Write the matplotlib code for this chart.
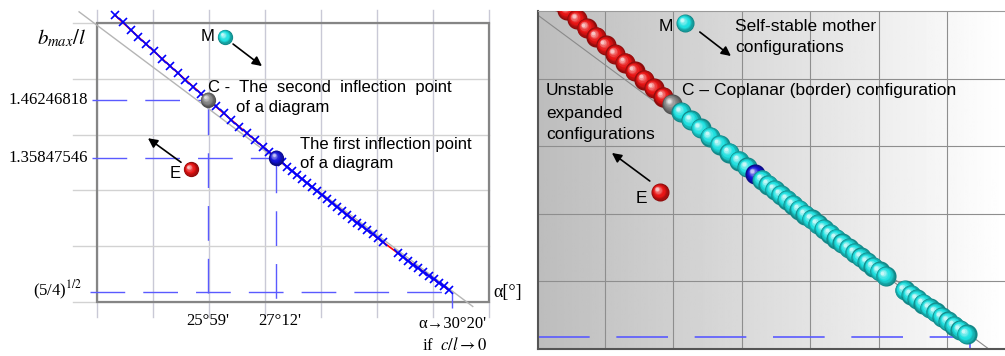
import numpy as np
import matplotlib
matplotlib.use('Agg')
import matplotlib.pyplot as plt
import matplotlib.colors as mcolors
from matplotlib.transforms import offset_copy

plt.rcParams['font.family'] = ['Liberation Sans', 'DejaVu Sans']
plt.rcParams['mathtext.fontset'] = 'stix'
SERIF = ['Liberation Serif', 'DejaVu Serif']

# データ (alpha [deg], b_max/l) --------------------------------
alpha_up = [24.32, 24.46, 24.60, 24.74, 24.88, 25.02, 25.16, 25.30, 25.44, 25.58, 25.72, 25.86]
b_up = [1.6142, 1.6010, 1.5879, 1.5749, 1.5619, 1.5490, 1.5362, 1.5235, 1.5108, 1.4982, 1.4858, 1.4733]

alpha_mid = [26.12, 26.26, 26.40, 26.54, 26.68, 26.82, 26.96, 27.08]
b_mid = [1.4505, 1.4383, 1.4262, 1.4142, 1.4022, 1.3903, 1.3785, 1.3685]

alpha_low1 = [27.30, 27.39, 27.48, 27.57, 27.66, 27.75, 27.84, 27.93, 28.02, 28.11, 28.20,
              28.29, 28.38, 28.47, 28.56, 28.65, 28.74, 28.83, 28.92, 29.01, 29.10]
b_low1 = [1.3502, 1.3428, 1.3354, 1.3280, 1.3207, 1.3134, 1.3062, 1.2989, 1.2918, 1.2846, 1.2775,
          1.2704, 1.2633, 1.2563, 1.2493, 1.2423, 1.2354, 1.2285, 1.2216, 1.2148, 1.2080]

alpha_low2 = [29.38, 29.47, 29.56, 29.65, 29.74, 29.83, 29.92, 30.01, 30.10, 30.19, 30.28]
b_low2 = [1.1870, 1.1803, 1.1737, 1.1671, 1.1605, 1.1540, 1.1474, 1.1410, 1.1345, 1.1281, 1.1217]

alpha_C, b_C = 25.983, 1.46246818        # second inflection point (25°59')
alpha_F, b_F = 27.2, 1.35847546          # first inflection point (27°12')
alpha_lim, b_lim = 30.333, 1.1180340     # 30°20', (5/4)^(1/2)

ref_alpha = [23.68, 30.71]               # thin grey reference line
ref_b = [1.620, 1.092]

alpha_ticks = [24, 25, 26, 27, 28, 29, 30, 31]
b_ticks = [1.1, 1.2, 1.3, 1.4, 1.5, 1.6]

curve_alpha = alpha_up + [alpha_C] + alpha_mid + [alpha_F] + alpha_low1 + alpha_low2
curve_b = b_up + [b_C] + b_mid + [b_F] + b_low1 + b_low2

DASH_BLUE = '#5a5aff'
RED = '#e81414'
CYAN = '#1ee0e0'
BLUE = '#1414d8'
GREY = '#858585'


# 3D風の球を描く ------------------------------
def ball(ax, x, y, color, size, z):
    base = np.array(mcolors.to_rgb(color))
    dark = base * 0.6
    light = base + (1 - base) * 0.75
    steps = 10
    for i in range(steps):
        t = i / (steps - 1)
        if t < 0.45:
            c = dark + (base - dark) * (t / 0.45)
        else:
            c = base + (light - base) * ((t - 0.45) / 0.55) ** 1.5
        d = size * (1 - 0.82 * t)
        off = size * 0.17 * t
        tr = offset_copy(ax.transData, fig=ax.figure, x=-off, y=off, units='points')
        ax.scatter([x], [y], s=d ** 2, color=[np.clip(c, 0, 1)], transform=tr,
                   zorder=z, linewidths=0)


def arrow(ax, start, end):
    ax.annotate('', xy=end, xytext=start,
                arrowprops=dict(arrowstyle='-|>', color='black', lw=1.2,
                                mutation_scale=14, shrinkA=0, shrinkB=0),
                zorder=12, annotation_clip=False)


fig = plt.figure(figsize=(10.05, 3.56), dpi=100)

# 左のグラフ ------------------------------------
ax1 = fig.add_axes([97 / 1005, 1 - 302 / 356, 392 / 1005, 279 / 356])
ax1.set_xlim(24, 31)
ax1.set_ylim(1.1, 1.6)
ax1.axis('off')

for a in alpha_ticks:
    ax1.plot([a, a], [1.073, 1.623], color='#c9c9d6', lw=1, clip_on=False, zorder=1)
for b in b_ticks:
    ax1.plot([23.57, 31], [b, b], color='#d2d2d2', lw=1, clip_on=False, zorder=1)
ax1.add_patch(plt.Rectangle((24, 1.1), 7, 0.5, fill=False, edgecolor='#858585',
                            lw=1.6, zorder=2, clip_on=False))

dash = dict(color=DASH_BLUE, lw=1, dashes=(25, 13), clip_on=False, zorder=2)
ax1.plot([23.91, alpha_C], [b_C, b_C], **dash)
ax1.plot([23.91, alpha_F], [b_F, b_F], **dash)
ax1.plot([23.88, alpha_lim], [b_lim, b_lim], **dash)
ax1.plot([alpha_C, alpha_C], [b_C, 1.090], **dash)
ax1.plot([alpha_F, alpha_F], [b_F, 1.090], **dash)
ax1.plot([alpha_lim, alpha_lim], [b_lim, 1.090], **dash)

ax1.plot(ref_alpha, ref_b, color='#b5b5b5', lw=1, clip_on=False, zorder=3)
ax1.plot(curve_alpha, curve_b, color='red', lw=1.2, clip_on=False, zorder=4)
ax1.plot(alpha_up + alpha_mid + alpha_low1 + alpha_low2, b_up + b_mid + b_low1 + b_low2,
         linestyle='none', marker='x', color='blue', markersize=6, mew=1.2,
         clip_on=False, zorder=5)

ball(ax1, alpha_C, b_C, GREY, 11, 6)
ball(ax1, alpha_F, b_F, BLUE, 11, 6)
ball(ax1, 26.286, 1.5749, CYAN, 11, 6)
ball(ax1, 25.679, 1.3379, RED, 11, 6)

ax1.text(23.84, b_C, '1.46246818', ha='right', va='center', fontsize=12, family=SERIF)
ax1.text(23.84, b_F, '1.35847546', ha='right', va='center', fontsize=12, family=SERIF)
ax1.text(23.73, b_lim + 0.002, '(5/4)$^{1/2}$', ha='right', va='center', fontsize=12, family=SERIF)
ax1.text(23.375, 1.573, '$b_{max}/l$', ha='center', va='center', fontsize=15)
ax1.text(alpha_C, 1.0668, "25°59'", ha='center', va='center', fontsize=12, family=SERIF)
ax1.text(27.27, 1.0668, "27°12'", ha='center', va='center', fontsize=12, family=SERIF)
ax1.text(30.96, 1.0614, "α→30°20'", ha='right', va='center', fontsize=12, family=SERIF)
ax1.text(30.96, 1.0219, 'if  $c/l \\rightarrow 0$', ha='right', va='center', fontsize=12,
         family=SERIF)
ax1.text(31.07, 1.117, 'α[°]', ha='left', va='center', fontsize=13, family=SERIF)

ax1.text(26.107, 1.5767, 'M', ha='right', va='center', fontsize=12)
arrow(ax1, (26.43, 1.5623), (26.946, 1.5228))
ax1.text(25.98, 1.4851, 'C -  The  second  inflection  point', ha='left', va='center', fontsize=12)
ax1.text(26.48, 1.4492, 'of a diagram', ha='left', va='center', fontsize=12)
ax1.text(27.625, 1.3828, 'The first inflection point', ha='left', va='center', fontsize=12)
ax1.text(27.625, 1.3487, 'of a diagram', ha='left', va='center', fontsize=12)
ax1.text(25.5, 1.3307, 'E', ha='right', va='center', fontsize=12)
arrow(ax1, (25.5, 1.3504), (24.91, 1.3935))

# 右のグラフ ------------------------------------
ax2 = fig.add_axes([538 / 1005, 1 - 349 / 356, 467 / 1005, 338 / 356])
x_lo, x_hi = 24.03, 30.84
ax2.set_xticks([])
ax2.set_yticks([])
grad = np.linspace(0.74, 1.0, 256).reshape(1, -1)
ax2.imshow(grad, cmap='gray', vmin=0, vmax=1, aspect='auto',
           extent=[x_lo, x_hi, 1.1, 1.6], zorder=0)
for a in alpha_ticks[1:-1]:
    ax2.axvline(a, color='#8e8e8e', lw=0.8, zorder=1)
for b in b_ticks[1:-1]:
    ax2.axhline(b, color='#8e8e8e', lw=0.8, zorder=1)
for side in ['left', 'bottom']:
    ax2.spines[side].set_color('#555555')
    ax2.spines[side].set_linewidth(1.5)
ax2.spines['top'].set_color('#9a9a9a')
ax2.spines['right'].set_visible(False)

ax2.plot([x_lo, alpha_lim], [b_lim, b_lim], color=DASH_BLUE, lw=1.2, dashes=(31, 16), zorder=2)
ax2.plot([alpha_lim, alpha_lim], [b_lim, 1.1], color=DASH_BLUE, lw=1.2, zorder=2)
ax2.plot(ref_alpha, ref_b, color='#8a8a8a', lw=0.8, zorder=2)
ax2.plot(curve_alpha, curve_b, color='#8a8a8a', lw=0.8, zorder=2)

z = 5.0
for a, b in zip(alpha_up, b_up):
    ball(ax2, a, b, RED, 14.5, z)
    z += 0.001
ball(ax2, alpha_C, b_C, GREY, 14.5, z)
z += 0.001
for a, b in zip(alpha_mid, b_mid):
    ball(ax2, a, b, CYAN, 14.5, z)
    z += 0.001
ball(ax2, alpha_F, b_F, BLUE, 14.5, z)
z += 0.001
for a, b in zip(alpha_low1 + alpha_low2, b_low1 + b_low2):
    ball(ax2, a, b, CYAN, 14.5, z)
    z += 0.001

ball(ax2, 26.172, 1.5822, CYAN, 13, 6)
ball(ax2, 25.81, 1.3322, RED, 13, 6)

ax2.text(25.997, 1.5778, 'M', ha='right', va='center', fontsize=12.5, zorder=12)
arrow(ax2, (26.39, 1.5689), (26.843, 1.5334))
ax2.text(26.90, 1.5778, 'Self-stable mother', ha='left', va='center', fontsize=12.5, zorder=12)
ax2.text(26.90, 1.5467, 'configurations', ha='left', va='center', fontsize=12.5, zorder=12)
ax2.text(24.146, 1.4831, 'Unstable', ha='left', va='center', fontsize=12.5, zorder=12)
ax2.text(24.146, 1.4491, 'expanded', ha='left', va='center', fontsize=12.5, zorder=12)
ax2.text(24.146, 1.4166, 'configurations', ha='left', va='center', fontsize=12.5, zorder=12)
ax2.text(26.128, 1.4831, 'C – Coplanar (border) configuration', ha='left', va='center',
         fontsize=12.5, zorder=12)
ax2.text(25.62, 1.3219, 'E', ha='right', va='center', fontsize=12.5, zorder=12)
arrow(ax2, (25.66, 1.3485), (25.108, 1.39))

ax2.set_xlim(x_lo, x_hi)
ax2.set_ylim(1.1, 1.6)

fig.savefig('out.png', dpi=100)
